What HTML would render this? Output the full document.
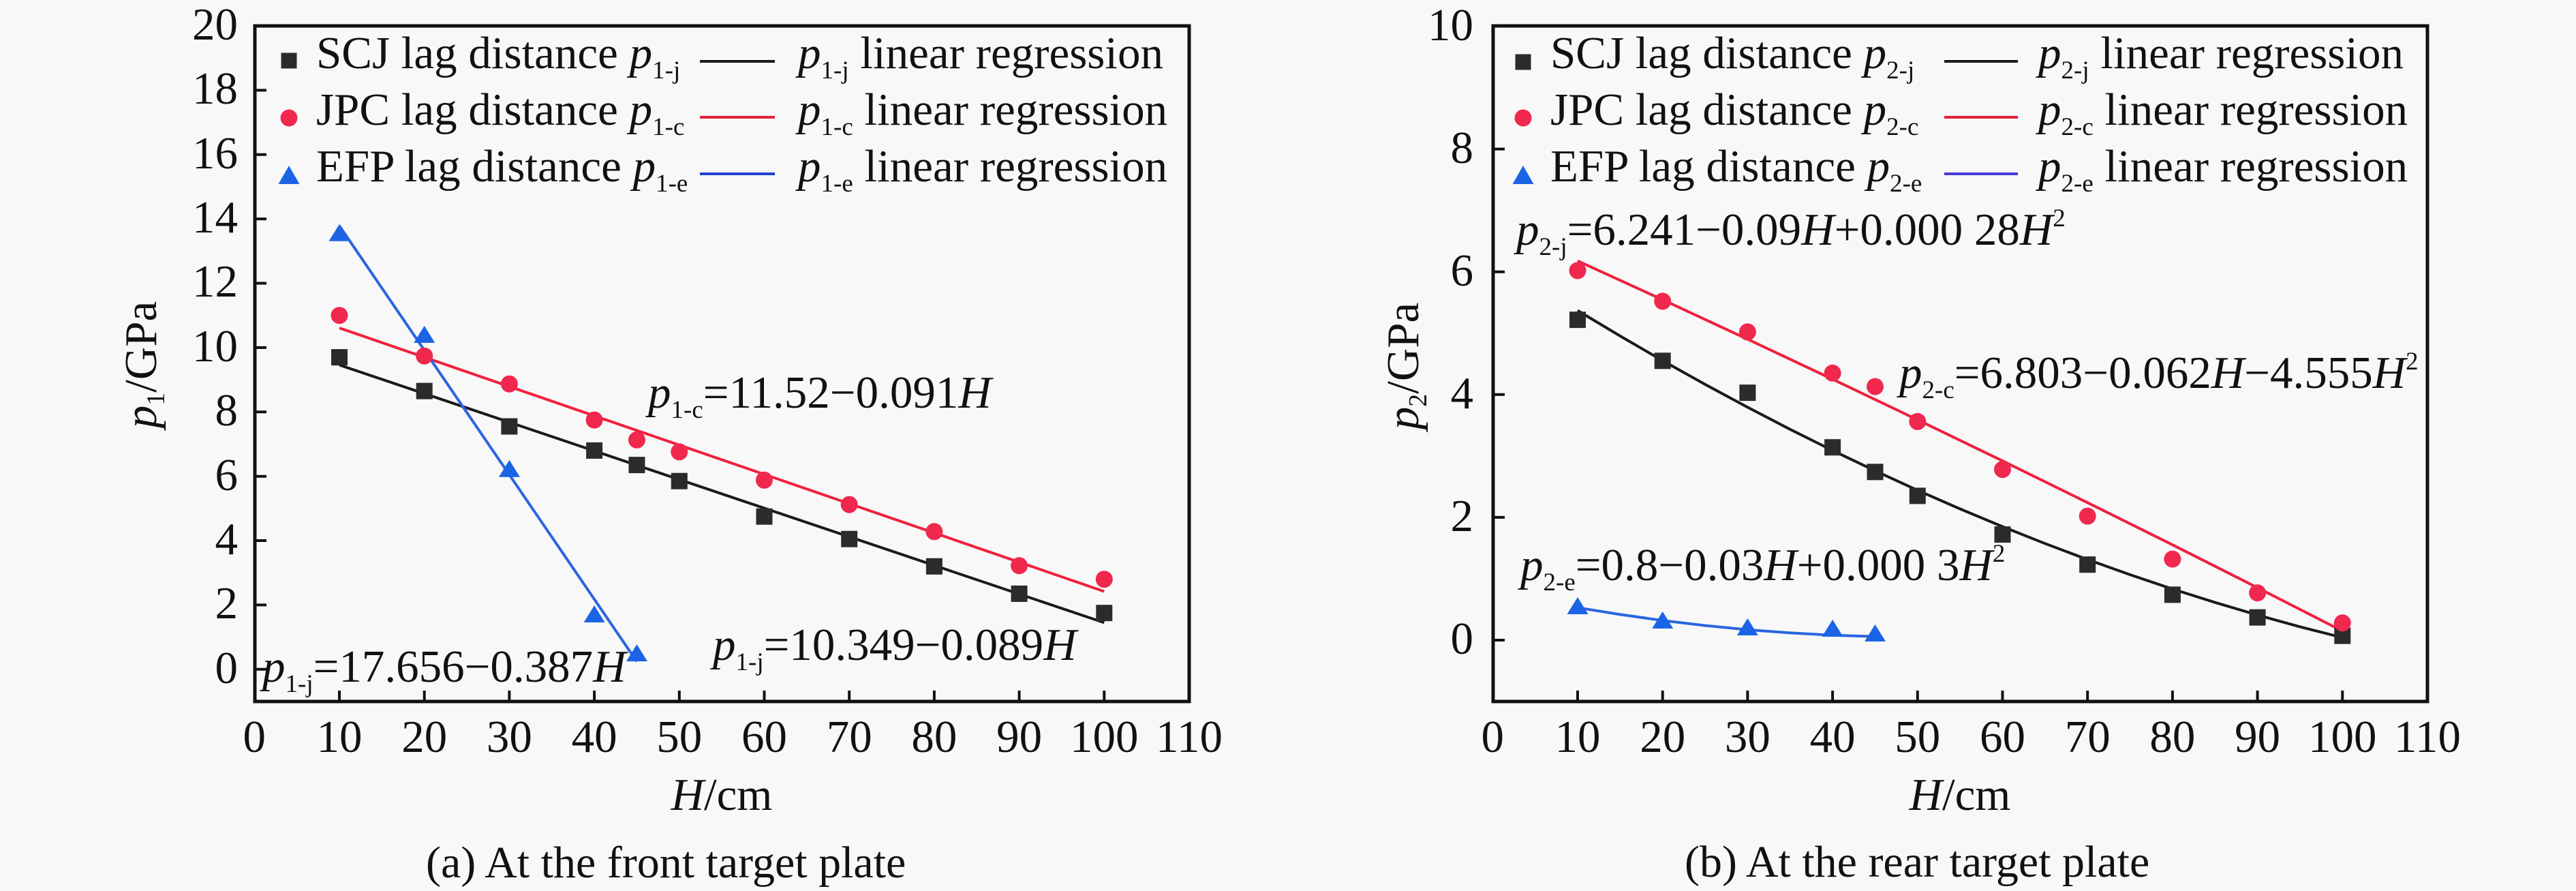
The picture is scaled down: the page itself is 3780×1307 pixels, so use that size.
<!DOCTYPE html>
<html><head><meta charset="utf-8"><style>
html,body{margin:0;padding:0;background:#f8f8f8;}
svg{display:block;}
svg text{font-family:"Liberation Serif","DejaVu Serif",serif;fill:#111;}
</style></head><body>
<svg width="3780" height="1307" viewBox="0 0 3780 1307" xmlns="http://www.w3.org/2000/svg" font-family="'Liberation Serif', 'DejaVu Serif', serif">
<rect x="0" y="0" width="3780" height="1307" fill="#f8f8f8"/>

<!-- ================= LEFT PLOT ================= -->
<g>
<line x1="498.0" y1="535.4" x2="1620.3" y2="913.4" stroke="#1a1a1a" stroke-width="4"/>
<line x1="498.0" y1="481.1" x2="1620.3" y2="867.6" stroke="#f0203c" stroke-width="4"/>
<line x1="498.0" y1="331.2" x2="934.5" y2="970.4" stroke="#2a66e0" stroke-width="4"/>

<g fill="#2b2b2b">
<rect x="486" y="512.1" width="24" height="24"/>
<rect x="610.7" y="561.6" width="24" height="24"/>
<rect x="735.4" y="613.5" width="24" height="24"/>
<rect x="860.1" y="648.9" width="24" height="24"/>
<rect x="922.5" y="670.1" width="24" height="24"/>
<rect x="984.8" y="693.7" width="24" height="24"/>
<rect x="1109.5" y="745.7" width="24" height="24"/>
<rect x="1234.2" y="778.7" width="24" height="24"/>
<rect x="1358.9" y="818.8" width="24" height="24"/>
<rect x="1483.6" y="858.9" width="24" height="24"/>
<rect x="1608.3" y="887.2" width="24" height="24"/>
</g>
<g fill="#f0284e">
<circle cx="498.0" cy="462.7" r="12.5"/>
<circle cx="622.7" cy="522.2" r="12.5"/>
<circle cx="747.4" cy="563.2" r="12.5"/>
<circle cx="872.1" cy="616.1" r="12.5"/>
<circle cx="934.5" cy="645.3" r="12.5"/>
<circle cx="996.8" cy="662.8" r="12.5"/>
<circle cx="1121.5" cy="704.3" r="12.5"/>
<circle cx="1246.2" cy="740.2" r="12.5"/>
<circle cx="1370.9" cy="779.8" r="12.5"/>
<circle cx="1495.6" cy="829.8" r="12.5"/>
<circle cx="1620.3" cy="849.7" r="12.5"/>
</g>
<g fill="#1c64e6">
<polygon points="498.0,328.8 482.5,353.8 513.5,353.8"/>
<polygon points="622.7,477.9 607.2,502.9 638.2,502.9"/>
<polygon points="747.4,674.7 731.9,699.7 762.9,699.7"/>
<polygon points="872.1,888.0 856.6,913.0 887.6,913.0"/>
<polygon points="934.5,945.1 919.0,970.1 950.0,970.1"/>
</g>

<rect x="374" y="38" width="1371" height="991" fill="none" stroke="#111" stroke-width="5"/>
<g stroke="#111" stroke-width="4">
<line x1="374" y1="981.8" x2="391" y2="981.8"/>
<line x1="374" y1="887.4" x2="391" y2="887.4"/>
<line x1="374" y1="793.0" x2="391" y2="793.0"/>
<line x1="374" y1="698.7" x2="391" y2="698.7"/>
<line x1="374" y1="604.3" x2="391" y2="604.3"/>
<line x1="374" y1="509.9" x2="391" y2="509.9"/>
<line x1="374" y1="415.5" x2="391" y2="415.5"/>
<line x1="374" y1="321.1" x2="391" y2="321.1"/>
<line x1="374" y1="226.8" x2="391" y2="226.8"/>
<line x1="374" y1="132.4" x2="391" y2="132.4"/>
<line x1="498.0" y1="1029" x2="498.0" y2="1013"/>
<line x1="622.7" y1="1029" x2="622.7" y2="1013"/>
<line x1="747.4" y1="1029" x2="747.4" y2="1013"/>
<line x1="872.1" y1="1029" x2="872.1" y2="1013"/>
<line x1="996.8" y1="1029" x2="996.8" y2="1013"/>
<line x1="1121.5" y1="1029" x2="1121.5" y2="1013"/>
<line x1="1246.2" y1="1029" x2="1246.2" y2="1013"/>
<line x1="1370.9" y1="1029" x2="1370.9" y2="1013"/>
<line x1="1495.6" y1="1029" x2="1495.6" y2="1013"/>
<line x1="1620.3" y1="1029" x2="1620.3" y2="1013"/>
</g>
<g font-size="67" text-anchor="end">
<text x="349" y="1002">0</text>
<text x="349" y="907">2</text>
<text x="349" y="813">4</text>
<text x="349" y="719">6</text>
<text x="349" y="624">8</text>
<text x="349" y="530">10</text>
<text x="349" y="435">12</text>
<text x="349" y="341">14</text>
<text x="349" y="247">16</text>
<text x="349" y="152">18</text>
<text x="349" y="58">20</text>
</g>
<g font-size="67" text-anchor="middle">
<text x="373.3" y="1103">0</text>
<text x="498.0" y="1103">10</text>
<text x="622.7" y="1103">20</text>
<text x="747.4" y="1103">30</text>
<text x="872.1" y="1103">40</text>
<text x="996.8" y="1103">50</text>
<text x="1121.5" y="1103">60</text>
<text x="1246.2" y="1103">70</text>
<text x="1370.9" y="1103">80</text>
<text x="1495.6" y="1103">90</text>
<text x="1620.3" y="1103">100</text>
<text x="1745" y="1103">110</text>
</g>
<text x="1059" y="1188" font-size="67" text-anchor="middle"><tspan font-style="italic">H</tspan>/cm</text>
<text transform="translate(229,535) rotate(-90)" font-size="67" text-anchor="middle"><tspan font-style="italic">p</tspan><tspan font-size="38" dy="12">1</tspan><tspan dy="-12">/GPa</tspan></text>
<text x="625" y="1287" font-size="66">(a) At the front target plate</text>

<rect x="412.5" y="77.5" width="23" height="23" fill="#2b2b2b"/>
<circle cx="424" cy="173" r="12.5" fill="#f0284e"/>
<polygon points="424,243 408.5,270 439.5,270" fill="#1c64e6"/>
<g font-size="67">
<text x="464" y="100">SCJ lag distance <tspan font-style="italic">p</tspan><tspan font-size="37" dy="15">1-j</tspan></text>
<text x="464" y="183">JPC lag distance <tspan font-style="italic">p</tspan><tspan font-size="37" dy="15">1-c</tspan></text>
<text x="464" y="266">EFP lag distance <tspan font-style="italic">p</tspan><tspan font-size="37" dy="15">1-e</tspan></text>
<text x="1171" y="100"><tspan font-style="italic">p</tspan><tspan font-size="37" dy="15">1-j</tspan><tspan dy="-15"> linear regression</tspan></text>
<text x="1171" y="183"><tspan font-style="italic">p</tspan><tspan font-size="37" dy="15">1-c</tspan><tspan dy="-15"> linear regression</tspan></text>
<text x="1171" y="266"><tspan font-style="italic">p</tspan><tspan font-size="37" dy="15">1-e</tspan><tspan dy="-15"> linear regression</tspan></text>
</g>
<line x1="1027" y1="90" x2="1137" y2="90" stroke="#1a1a1a" stroke-width="4"/>
<line x1="1027" y1="172" x2="1137" y2="172" stroke="#e8203a" stroke-width="4"/>
<line x1="1027" y1="255" x2="1137" y2="255" stroke="#2040d0" stroke-width="4"/>

<g font-size="67">
<text x="951" y="598"><tspan font-style="italic">p</tspan><tspan font-size="37" dy="15">1-c</tspan><tspan dy="-15">=11.52−0.091</tspan><tspan font-style="italic">H</tspan></text>
<text x="385" y="1000"><tspan font-style="italic">p</tspan><tspan font-size="37" dy="15">1-j</tspan><tspan dy="-15">=17.656−0.387</tspan><tspan font-style="italic">H</tspan></text>
<text x="1046" y="968"><tspan font-style="italic">p</tspan><tspan font-size="37" dy="15">1-j</tspan><tspan dy="-15">=10.349−0.089</tspan><tspan font-style="italic">H</tspan></text>
</g>
</g>

<!-- ================= RIGHT PLOT ================= -->
<g>
<polyline fill="none" stroke="#1a1a1a" stroke-width="4" points="2315.0,455.5 2377.4,492.9 2439.7,529.0 2502.1,563.9 2564.4,597.4 2626.8,629.8 2689.1,660.8 2751.5,690.6 2813.8,719.2 2876.2,746.5 2938.5,772.5 3000.9,797.3 3063.2,820.8 3125.6,843.0 3187.9,864.0 3250.3,883.7 3312.6,902.2 3375.0,919.4 3437.3,935.3"/>
<polyline fill="none" stroke="#f0203c" stroke-width="4" points="2315.0,382.7 2439.7,439.7 2564.4,497.6 2689.1,556.3 2813.8,615.8 2938.5,676.1 3063.2,737.3 3187.9,799.2 3312.6,862.1 3437.3,925.7"/>
<polyline fill="none" stroke="#2a66e0" stroke-width="4" points="2315.0,891.3 2377.4,901.4 2439.7,910.2 2502.1,917.6 2564.4,923.7 2626.8,928.4 2689.1,931.8 2751.5,933.8"/>

<g fill="#2b2b2b">
<rect x="2303" y="457.1" width="24" height="24"/>
<rect x="2427.7" y="517.3" width="24" height="24"/>
<rect x="2552.4" y="564.1" width="24" height="24"/>
<rect x="2677.1" y="644.2" width="24" height="24"/>
<rect x="2739.5" y="680.3" width="24" height="24"/>
<rect x="2801.8" y="715.4" width="24" height="24"/>
<rect x="2926.5" y="772.1" width="24" height="24"/>
<rect x="3051.2" y="816.2" width="24" height="24"/>
<rect x="3175.9" y="860.4" width="24" height="24"/>
<rect x="3300.6" y="893.7" width="24" height="24"/>
<rect x="3425.3" y="920.7" width="24" height="24"/>
</g>
<g fill="#f0284e">
<circle cx="2315.0" cy="396.9" r="12.5"/>
<circle cx="2439.7" cy="441.9" r="12.5"/>
<circle cx="2564.4" cy="486.9" r="12.5"/>
<circle cx="2689.1" cy="547.3" r="12.5"/>
<circle cx="2751.5" cy="567.1" r="12.5"/>
<circle cx="2813.8" cy="618.4" r="12.5"/>
<circle cx="2938.5" cy="688.7" r="12.5"/>
<circle cx="3063.2" cy="757.1" r="12.5"/>
<circle cx="3187.9" cy="820.1" r="12.5"/>
<circle cx="3312.6" cy="869.7" r="12.5"/>
<circle cx="3437.3" cy="913.8" r="12.5"/>
</g>
<g fill="#1c64e6">
<polygon points="2315.0,876 2299.5,901 2330.5,901"/>
<polygon points="2439.7,897 2424.2,922 2455.2,922"/>
<polygon points="2564.4,907 2548.9,932 2579.9,932"/>
<polygon points="2689.1,909 2673.6,934 2704.6,934"/>
<polygon points="2751.5,916 2736.0,941 2767.0,941"/>
</g>

<rect x="2191" y="38" width="1371" height="991" fill="none" stroke="#111" stroke-width="5"/>
<g stroke="#111" stroke-width="4">
<line x1="2191" y1="939.0" x2="2208" y2="939.0"/>
<line x1="2191" y1="758.9" x2="2208" y2="758.9"/>
<line x1="2191" y1="578.8" x2="2208" y2="578.8"/>
<line x1="2191" y1="398.7" x2="2208" y2="398.7"/>
<line x1="2191" y1="218.6" x2="2208" y2="218.6"/>
<line x1="2315.0" y1="1029" x2="2315.0" y2="1013"/>
<line x1="2439.7" y1="1029" x2="2439.7" y2="1013"/>
<line x1="2564.4" y1="1029" x2="2564.4" y2="1013"/>
<line x1="2689.1" y1="1029" x2="2689.1" y2="1013"/>
<line x1="2813.8" y1="1029" x2="2813.8" y2="1013"/>
<line x1="2938.5" y1="1029" x2="2938.5" y2="1013"/>
<line x1="3063.2" y1="1029" x2="3063.2" y2="1013"/>
<line x1="3187.9" y1="1029" x2="3187.9" y2="1013"/>
<line x1="3312.6" y1="1029" x2="3312.6" y2="1013"/>
<line x1="3437.3" y1="1029" x2="3437.3" y2="1013"/>
</g>
<g font-size="67" text-anchor="end">
<text x="2162" y="959">0</text>
<text x="2162" y="779">2</text>
<text x="2162" y="599">4</text>
<text x="2162" y="419">6</text>
<text x="2162" y="239">8</text>
<text x="2162" y="59">10</text>
</g>
<g font-size="67" text-anchor="middle">
<text x="2190.3" y="1103">0</text>
<text x="2315.0" y="1103">10</text>
<text x="2439.7" y="1103">20</text>
<text x="2564.4" y="1103">30</text>
<text x="2689.1" y="1103">40</text>
<text x="2813.8" y="1103">50</text>
<text x="2938.5" y="1103">60</text>
<text x="3063.2" y="1103">70</text>
<text x="3187.9" y="1103">80</text>
<text x="3312.6" y="1103">90</text>
<text x="3437.3" y="1103">100</text>
<text x="3562" y="1103">110</text>
</g>
<text x="2876" y="1188" font-size="67" text-anchor="middle"><tspan font-style="italic">H</tspan>/cm</text>
<text transform="translate(2081,537) rotate(-90)" font-size="67" text-anchor="middle"><tspan font-style="italic">p</tspan><tspan font-size="38" dy="12">2</tspan><tspan dy="-12">/GPa</tspan></text>
<text x="2472" y="1286" font-size="66">(b) At the rear target plate</text>

<rect x="2223.5" y="79.5" width="23" height="23" fill="#2b2b2b"/>
<circle cx="2235" cy="173" r="12.5" fill="#f0284e"/>
<polygon points="2235,243 2219.5,270 2250.5,270" fill="#1c64e6"/>
<g font-size="67">
<text x="2275" y="100">SCJ lag distance <tspan font-style="italic">p</tspan><tspan font-size="37" dy="15">2-j</tspan></text>
<text x="2275" y="183">JPC lag distance <tspan font-style="italic">p</tspan><tspan font-size="37" dy="15">2-c</tspan></text>
<text x="2275" y="266">EFP lag distance <tspan font-style="italic">p</tspan><tspan font-size="37" dy="15">2-e</tspan></text>
<text x="2991" y="100"><tspan font-style="italic">p</tspan><tspan font-size="37" dy="15">2-j</tspan><tspan dy="-15"> linear regression</tspan></text>
<text x="2991" y="183"><tspan font-style="italic">p</tspan><tspan font-size="37" dy="15">2-c</tspan><tspan dy="-15"> linear regression</tspan></text>
<text x="2991" y="266"><tspan font-style="italic">p</tspan><tspan font-size="37" dy="15">2-e</tspan><tspan dy="-15"> linear regression</tspan></text>
</g>
<line x1="2853" y1="90" x2="2961" y2="90" stroke="#1a1a1a" stroke-width="4"/>
<line x1="2853" y1="172" x2="2961" y2="172" stroke="#e8203a" stroke-width="4"/>
<line x1="2853" y1="255" x2="2961" y2="255" stroke="#4a3ad8" stroke-width="4"/>

<g font-size="67">
<text x="2225" y="359"><tspan font-style="italic">p</tspan><tspan font-size="37" dy="15">2-j</tspan><tspan dy="-15">=6.241−0.09</tspan><tspan font-style="italic">H</tspan><tspan>+0.000 28</tspan><tspan font-style="italic">H</tspan><tspan font-size="37" dy="-27">2</tspan></text>
<text x="2787" y="569"><tspan font-style="italic">p</tspan><tspan font-size="37" dy="15">2-c</tspan><tspan dy="-15">=6.803−0.062</tspan><tspan font-style="italic">H</tspan><tspan>−4.555</tspan><tspan font-style="italic">H</tspan><tspan font-size="37" dy="-27">2</tspan></text>
<text x="2231" y="851"><tspan font-style="italic">p</tspan><tspan font-size="37" dy="15">2-e</tspan><tspan dy="-15">=0.8−0.03</tspan><tspan font-style="italic">H</tspan><tspan>+0.000 3</tspan><tspan font-style="italic">H</tspan><tspan font-size="37" dy="-27">2</tspan></text>
</g>
</g>
</svg>
</body></html>
